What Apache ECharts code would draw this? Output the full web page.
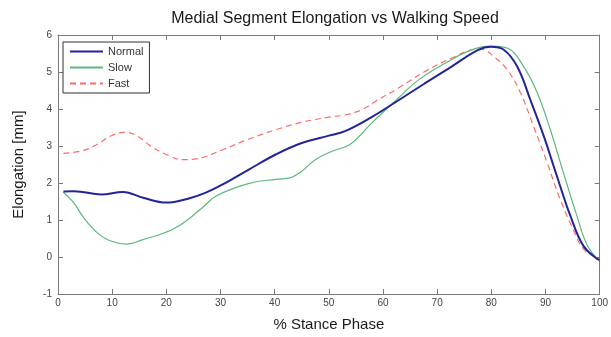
<!DOCTYPE html>
<html><head><meta charset="utf-8">
<script src="https://cdn.jsdelivr.net/npm/echarts@6/dist/echarts.min.js"></script>
<style>html,body{margin:0;padding:0;background:#fff}#c{width:611px;height:337px}</style>
</head><body><div id="c"></div>
<script>
const xTicks = [0,10,20,30,40,50,60,70,80,90,100];
const yTicks = [-1,0,1,2,3,4,5,6];
const seriesNames = ['Normal','Slow','Fast'];

const xNormal = [1,3,8,12,15.7,20,24.3,27.3,30.4,35.3,40.2,45,50,53,57.9,62.8,67.7,72.6,77.5,79.9,82.3,84.8,87.2,89.7,92.1,94.6,97,99.5,100];
const yNormal = [1.77,1.78,1.69,1.76,1.6,1.47,1.59,1.74,1.96,2.37,2.77,3.08,3.28,3.4,3.78,4.23,4.69,5.14,5.59,5.68,5.6,5.14,4.25,3.26,2.19,1.11,0.3,-0.05,-0.08];

const xSlow = [1,2.9,4.7,7.2,9.6,12.7,15.7,20.6,23.7,26.7,29.2,35.3,40.2,42.6,45,47.5,50.6,53.9,57.9,62.8,66.5,71.4,76.2,79.9,83,86,88.5,90.9,93.3,95.8,97.6,99.5,100];
const ySlow = [1.75,1.47,1.07,0.66,0.44,0.35,0.47,0.71,0.98,1.34,1.65,1.99,2.1,2.13,2.32,2.63,2.86,3.04,3.62,4.29,4.78,5.23,5.59,5.7,5.64,5.14,4.43,3.44,2.28,1.11,0.35,-0.05,-0.08];

const xFast = [1,4.7,7.2,9.6,12.4,14.5,17,20,23.1,25.5,30.4,35.3,40.2,45,50,53,56.1,59.1,62.8,67.7,72.6,76.2,78.1,80.5,83,85.4,87.8,90.3,92.7,95.1,97,99.5,100];
const yFast = [2.8,2.88,3.04,3.26,3.37,3.28,3.01,2.77,2.63,2.65,2.9,3.19,3.44,3.64,3.78,3.84,3.98,4.25,4.56,5.01,5.37,5.59,5.62,5.41,5.05,4.43,3.53,2.55,1.56,0.75,0.22,-0.03,-0.06];

const pairs = (xs, ys) => xs.map((x, i) => [x, ys[i]]);
const axisCol = '#7a7a7a';
const chart = echarts.init(document.getElementById('c'), null, {renderer:'canvas'});
const baseX = {
  type:'value', min:0, max:100, interval:10,
  axisLine:{show:true, onZero:false, lineStyle:{color:axisCol, width:1}},
  axisTick:{show:true, inside:true, length:5, lineStyle:{color:axisCol}},
  splitLine:{show:false}
};
const baseY = {
  type:'value', min:-1, max:6, interval:1,
  axisLine:{show:true, onZero:false, lineStyle:{color:axisCol, width:1}},
  axisTick:{show:true, inside:true, length:5, lineStyle:{color:axisCol}},
  splitLine:{show:false}
};
chart.setOption({
  animation:false,
  backgroundColor:'#fff',
  title:{text:'Medial Segment Elongation vs Walking Speed', left:330, textAlign:'center', top:6,
    textStyle:{fontFamily:'Liberation Sans', fontSize:16, fontWeight:'normal', color:'#1a1a1a'}},
  legend:{data:seriesNames, orient:'vertical', left:63, top:42, itemWidth:33, itemHeight:10, itemGap:5,
    padding:[4,6,4,6], borderColor:'#333', borderWidth:1, backgroundColor:'#fff', borderRadius:0,
    itemStyle:{opacity:0},
    textStyle:{fontFamily:'Liberation Sans', fontSize:11, color:'#333', padding:[0,0,0,0]}},
  grid:{left:58, right:8, top:35, bottom:42, containLabel:false},
  xAxis:[
    Object.assign({}, baseX, {position:'bottom', name:'% Stance Phase', nameLocation:'middle', nameGap:23,
      nameTextStyle:{fontFamily:'Liberation Sans', fontSize:15, color:'#1a1a1a'},
      axisLabel:{fontFamily:'Liberation Sans', fontSize:10, color:'#444', margin:4}}),
    Object.assign({}, baseX, {position:'top', axisLabel:{show:false}})
  ],
  yAxis:[
    Object.assign({}, baseY, {position:'left', name:'Elongation [mm]', nameLocation:'middle', nameGap:32,
      nameTextStyle:{fontFamily:'Liberation Sans', fontSize:15, color:'#1a1a1a'},
      axisLabel:{fontFamily:'Liberation Sans', fontSize:10, color:'#444', margin:6}}),
    Object.assign({}, baseY, {position:'right', axisLabel:{show:false}})
  ],
  series:[
    {name:seriesNames[0], type:'line', smooth:0.4, symbol:'none', data:pairs(xNormal,yNormal),
      lineStyle:{color:'#23239a', width:2}, itemStyle:{color:'#23239a'}, z:4},
    {name:seriesNames[1], type:'line', smooth:0.4, symbol:'none', data:pairs(xSlow,ySlow),
      lineStyle:{color:'#5cb87c', width:1.2}, itemStyle:{color:'#5cb87c'}, z:3},
    {name:seriesNames[2], type:'line', smooth:0.4, symbol:'none', data:pairs(xFast,yFast),
      lineStyle:{color:'#ff6b6b', width:1.2, type:[6,4]}, itemStyle:{color:'#ff6b6b'}, z:2}
  ]
});
</script></body></html>
